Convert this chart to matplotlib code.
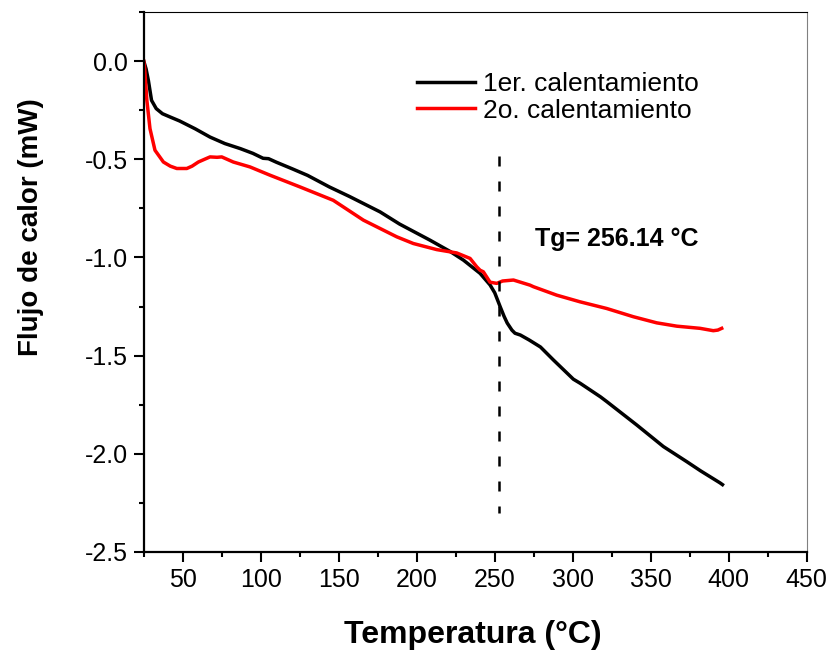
import matplotlib
matplotlib.use("Agg")
import matplotlib.pyplot as plt
from matplotlib.ticker import MultipleLocator, FormatStrFormatter

plt.rcParams["font.family"] = ["Liberation Sans", "DejaVu Sans"]
plt.rcParams["axes.unicode_minus"] = False

# 1er. calentamiento
temp_1 = [25, 26.5, 28, 30, 33, 37, 42, 48, 58, 67.5, 77, 87, 95, 101.5, 105,
          110, 120, 130, 144, 157, 176.5, 189, 208.5, 221.5, 230, 240.6, 247,
          250, 253.6, 256, 258, 261, 263, 266.4, 272, 279.3, 287.6, 300.4,
          304.8, 317.8, 321.8, 341, 358.1, 373.1, 382, 394.4, 396]
flujo_1 = [0, -0.04, -0.1, -0.2, -0.242, -0.268, -0.285, -0.305, -0.345,
           -0.387, -0.42, -0.446, -0.47, -0.495, -0.497, -0.515, -0.548,
           -0.582, -0.641, -0.69, -0.768, -0.83, -0.912, -0.97, -1.014,
           -1.081, -1.14, -1.18, -1.253, -1.30, -1.334, -1.37, -1.386, -1.395,
           -1.42, -1.456, -1.522, -1.62, -1.641, -1.71, -1.734, -1.853, -1.963,
           -2.04, -2.087, -2.148, -2.157]

# 2o. calentamiento
temp_2 = [25, 25.5, 27, 29, 32.2, 37.6, 42, 46.2, 52.6, 56, 60, 64, 67.5, 72,
          75, 82.4, 93.1, 105.9, 125.2, 146.5, 165.8, 187.2, 197.8, 212.8,
          225.6, 234.2, 238.5, 240.6, 242.7, 247, 251.3, 255, 262, 272.6,
          274.8, 289.7, 304.7, 321.8, 338.9, 353.8, 366.7, 381.6, 390.1, 393,
          395.5]
flujo_2 = [0, -0.03, -0.2, -0.344, -0.454, -0.514, -0.535, -0.547, -0.547,
           -0.535, -0.514, -0.5, -0.488, -0.49, -0.488, -0.514, -0.539, -0.581,
           -0.641, -0.709, -0.81, -0.895, -0.929, -0.96, -0.977, -1.005, -1.048,
           -1.065, -1.073, -1.126, -1.132, -1.12, -1.115, -1.141, -1.149,
           -1.192, -1.226, -1.26, -1.302, -1.333, -1.35, -1.361, -1.373, -1.37,
           -1.361]

tg = 252.5
tg_label = "Tg= 256.14 °C"

fig = plt.figure(figsize=(8.28, 6.52), dpi=100)
ax = fig.add_axes([0.1736, 0.1534, 0.8007, 0.8282])

ax.plot(temp_1, flujo_1, color="black", lw=2.5, label="1er. calentamiento")
ax.plot(temp_2, flujo_2, color="#ff0000", lw=2.5, label="2o. calentamiento")
ax.plot([tg, tg], [-0.485, -2.3], color="black", lw=1.8, linestyle=(0, (4, 6)))

ax.text(275.8, -0.943, tg_label, fontsize=18, fontweight="bold", va="baseline")

ax.set_xlim(25, 450)
ax.set_ylim(-2.5, 0.25)
ax.xaxis.set_major_locator(MultipleLocator(50))
ax.xaxis.set_minor_locator(MultipleLocator(25))
ax.yaxis.set_major_locator(MultipleLocator(0.5))
ax.yaxis.set_minor_locator(MultipleLocator(0.25))
ax.yaxis.set_major_formatter(FormatStrFormatter("%.1f"))
ax.set_xticks([50, 100, 150, 200, 250, 300, 350, 400, 450])

ax.tick_params(which="major", direction="out", length=7.5, width=1.5,
               labelsize=18, pad=4)
ax.tick_params(which="minor", direction="out", length=3.6, width=1.5)
ax.tick_params(top=False, right=False, which="both")

ax.spines["left"].set_linewidth(1.6)
ax.spines["bottom"].set_linewidth(1.6)
ax.spines["top"].set_linewidth(0.8)
ax.spines["right"].set_linewidth(0.8)
ax.spines["right"].set_color("#808080")

ax.legend(loc="center left", bbox_to_anchor=(0.412, 0.842), frameon=False,
          fontsize=19, handlelength=2.2, handletextpad=0.3, labelspacing=0.1,
          borderpad=0, borderaxespad=0)

fig.text(0.571, 0.014, "Temperatura (°C)", fontsize=23, fontweight="bold",
         ha="center", va="baseline")
fig.text(0.0374, 0.652, "Flujo de calor (mW)", fontsize=20, fontweight="bold",
         ha="center", va="center", rotation=90)

fig.savefig("out.png", dpi=100)
